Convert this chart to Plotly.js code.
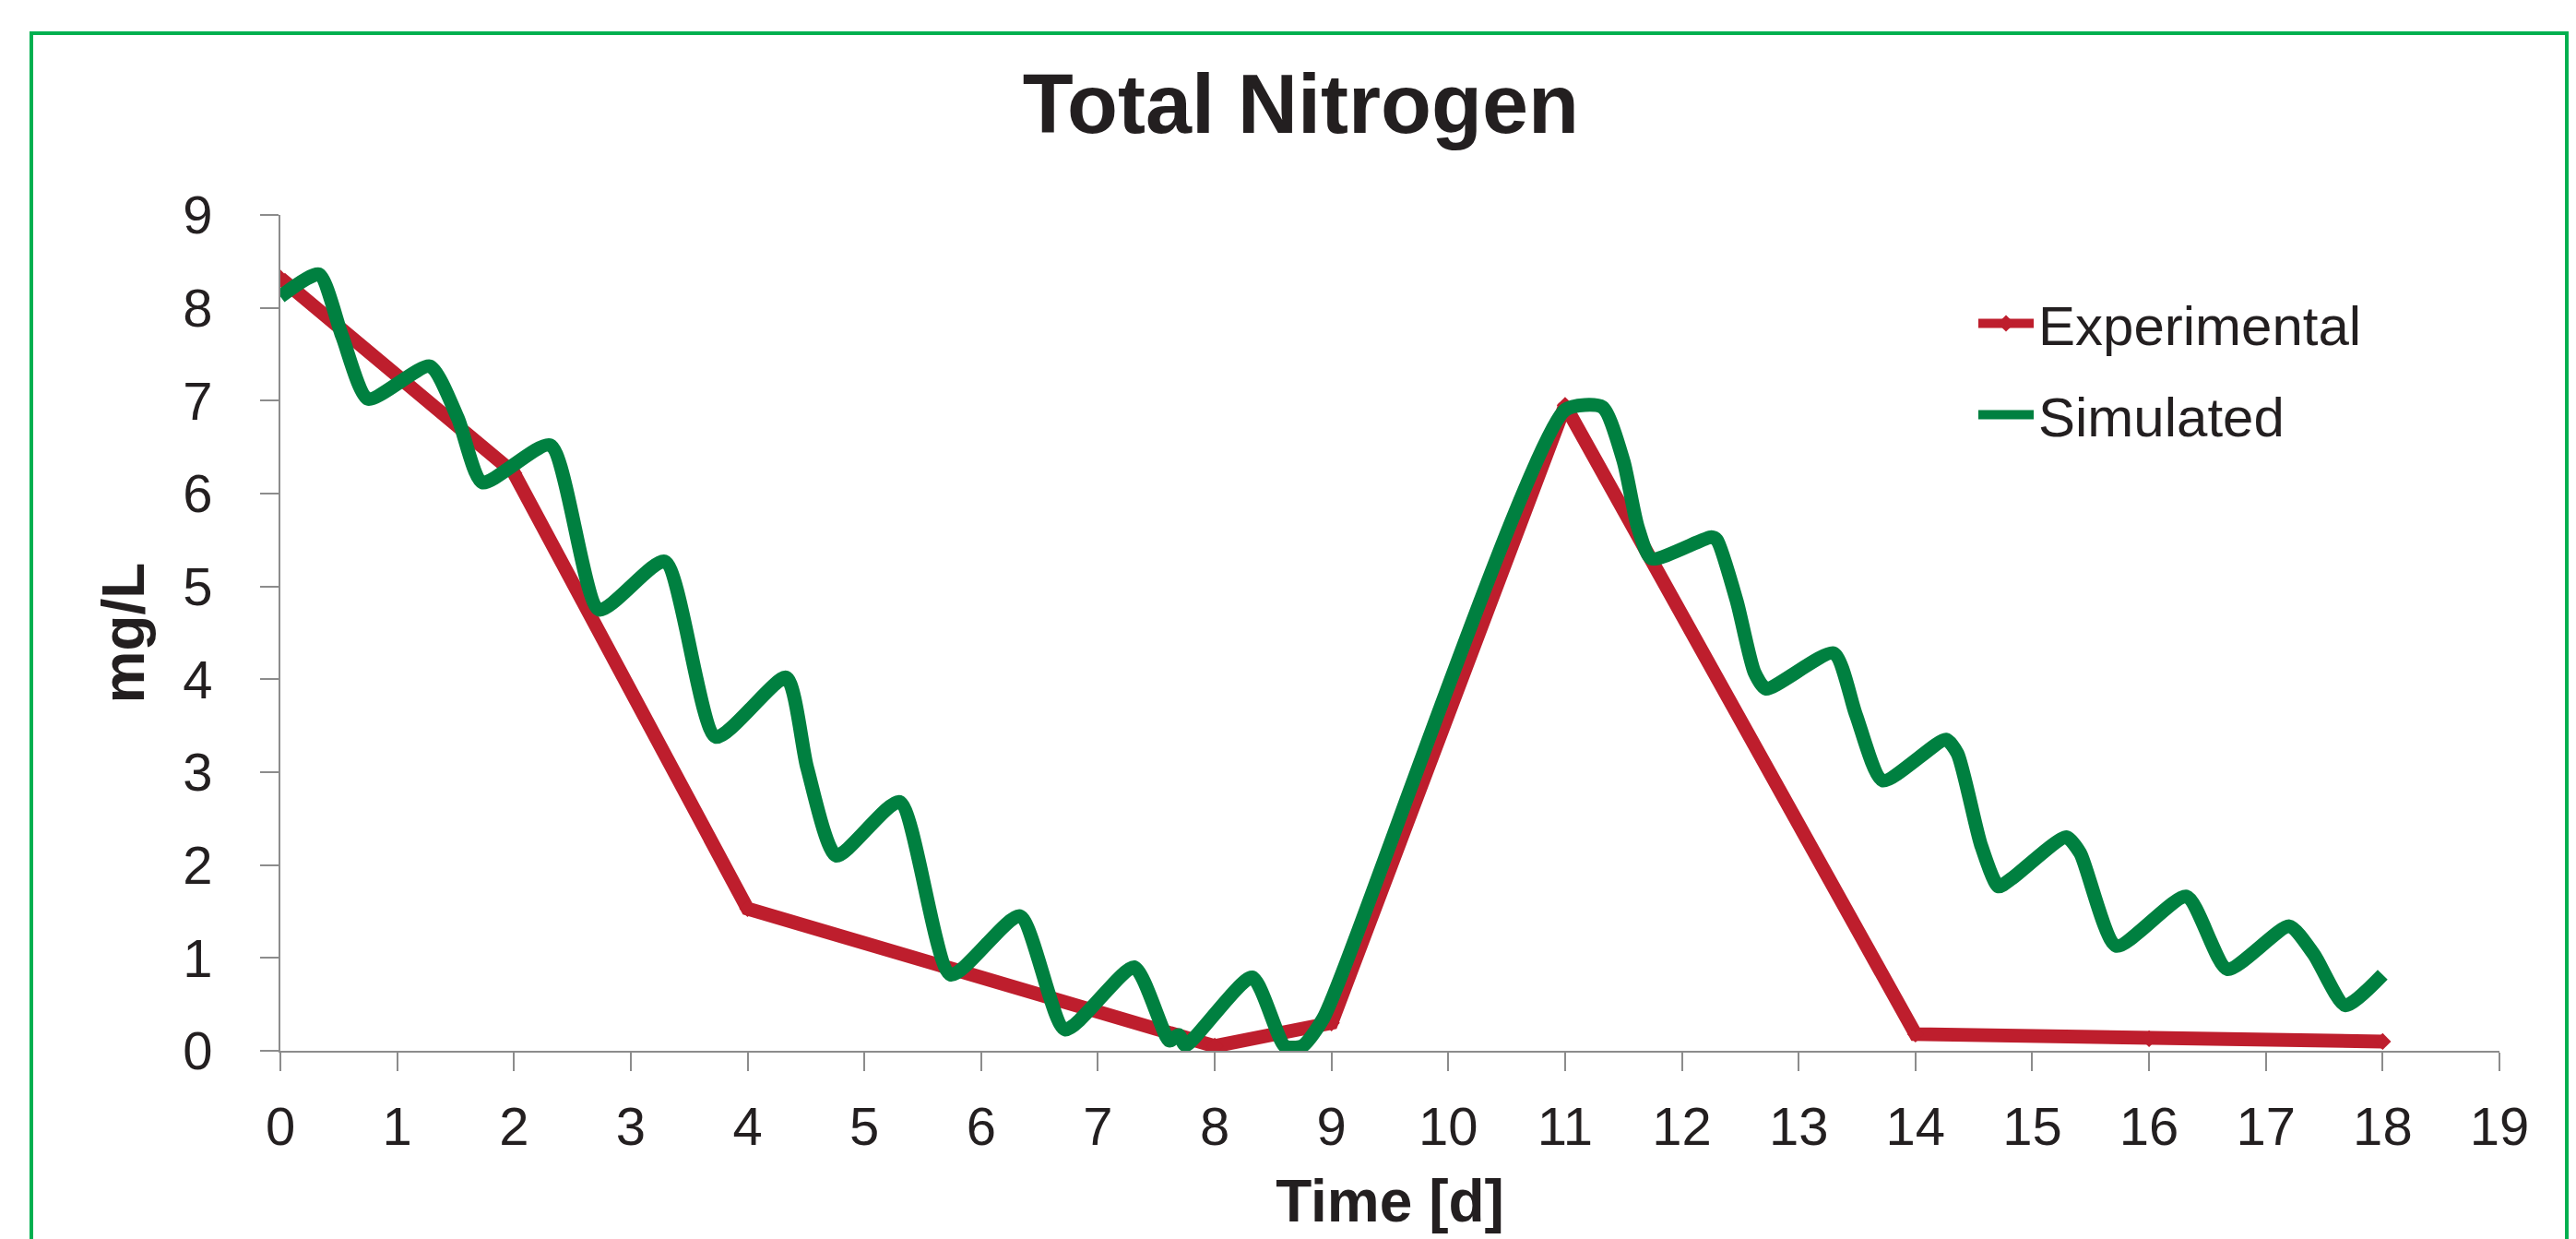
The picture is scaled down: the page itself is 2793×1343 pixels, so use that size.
<!DOCTYPE html>
<html>
<head>
<meta charset="utf-8">
<script src="https://cdn.plot.ly/plotly-3.0.1.min.js"></script>
<style>
  html, body { margin: 0; padding: 0; background: #ffffff; }
  #chart { width: 2793px; height: 1343px; }
</style>
</head>
<body>
<div id="chart"></div>
<script>
// ---- Data ----
const expTime = [0, 2, 4, 8, 9, 11, 14, 16, 18];
const expValue = [8.32, 6.22, 1.53, 0.05, 0.3, 6.95, 0.18, 0.13, 0.1];

const simTime = [0, 0.33, 0.53, 0.75, 1.28, 1.52, 1.73, 2.31, 2.73, 3.29, 3.73, 4.33, 4.51, 4.76,
  5.30, 5.74, 6.33, 6.72, 7.31, 7.61, 7.69, 7.75, 8.32, 8.6, 8.75, 8.93, 11.0, 11.32, 11.5, 11.62,
  11.74, 12.25, 12.30, 12.47, 12.62, 12.72, 13.30, 13.49, 13.72, 14.26, 14.36, 14.56, 14.71, 14.83,
  15.29, 15.41, 15.72, 16.32, 16.67, 17.20, 17.41, 17.68, 18.0];
const simValue = [8.12, 8.36, 7.69, 7.02, 7.37, 6.81, 6.12, 6.52, 4.75, 5.27, 3.38, 4.02, 3.05, 2.10,
  2.68, 0.82, 1.45, 0.23, 0.90, 0.11, 0.17, 0.06, 0.79, 0.05, 0.05, 0.35, 6.90, 6.93, 6.35, 5.65,
  5.30, 5.53, 5.50, 4.84, 4.08, 3.90, 4.28, 3.62, 2.91, 3.35, 3.20, 2.22, 1.77, 1.86,
  2.30, 2.13, 1.13, 1.66, 0.88, 1.34, 1.04, 0.49, 0.82];

const xTicks = [0,1,2,3,4,5,6,7,8,9,10,11,12,13,14,15,16,17,18,19];
const yTicks = [0,1,2,3,4,5,6,7,8,9];

const seriesNames = ['Experimental', 'Simulated'];
const chartTitle = 'Total Nitrogen';
const xTitle = 'Time [d]';
const yTitle = 'mg/L';

// ---- Styles ----
const RED = '#BE1E2D';
const GREEN = '#008040';
const TEXT = '#231F20';
const AXIS = '#8C8C8C';
const FONT = '"Liberation Sans", Arial, sans-serif';

const traces = [
  {
    x: expTime, y: expValue, name: seriesNames[0], type: 'scatter', mode: 'lines+markers',
    line: { color: RED, width: 15 },
    marker: { symbol: 'diamond', size: 14, color: RED },
    legendgroup: 'a'
  },
  {
    x: simTime, y: simValue, name: seriesNames[1], type: 'scatter', mode: 'lines',
    line: { color: GREEN, width: 15, shape: 'spline', smoothing: 0.6 },
    legendgroup: 'b'
  }
];

const L = 304, R = 83, T = 233, B = 204;
const W = 2793, H = 1343;
const pw = W - L - R, ph = H - T - B;
function px2x(px) { return (px - L) / pw; }
function py2y(py) { return (H - B - py) / ph; }

const layout = {
  width: W, height: H, autosize: false,
  margin: { l: L, r: R, t: T, b: B, pad: 0 },
  paper_bgcolor: '#ffffff', plot_bgcolor: '#ffffff',
  font: { family: FONT, color: TEXT, size: 58 },
  title: {
    text: '<b>' + chartTitle + '</b>',
    font: { family: FONT, size: 90, color: TEXT },
    x: 0.505, xanchor: 'center', xref: 'container',
    y: 1 - 112 / H, yanchor: 'middle', yref: 'container'
  },
  xaxis: {
    range: [0, 19], tickvals: xTicks, ticktext: xTicks.map(String),
    showgrid: false, zeroline: false,
    showline: true, linecolor: AXIS, linewidth: 2,
    ticks: 'outside', ticklen: 20, tickwidth: 2, tickcolor: AXIS,
    tickfont: { family: FONT, size: 58, color: TEXT },
    ticklabelstandoff: 10,
    title: { text: '<b>' + xTitle + '</b>', font: { family: FONT, size: 64, color: TEXT }, standoff: 28 },
    automargin: false, fixedrange: true
  },
  yaxis: {
    range: [0, 9], tickvals: yTicks, ticktext: yTicks.map(String),
    showgrid: false, zeroline: false,
    showline: true, linecolor: AXIS, linewidth: 2,
    ticks: 'outside', ticklen: 20, tickwidth: 2, tickcolor: AXIS,
    tickfont: { family: FONT, size: 58, color: TEXT },
    ticklabelstandoff: 40,
    title: { text: '<b>' + yTitle + '</b>', font: { family: FONT, size: 64, color: TEXT }, standoff: 21 },
    automargin: false, fixedrange: true
  },
  showlegend: true,
  legend: {
    x: px2x(2140), xanchor: 'left', y: py2y(305), yanchor: 'top',
    font: { family: FONT, size: 60, color: TEXT },
    bgcolor: 'rgba(0,0,0,0)', borderwidth: 0,
    tracegroupgap: 18, itemwidth: 60, traceorder: 'grouped'
  },
  shapes: [
    {
      type: 'rect', xref: 'paper', yref: 'paper', layer: 'below',
      x0: px2x(34), x1: px2x(2783), y0: py2y(1360), y1: py2y(36),
      line: { color: '#00B050', width: 4 }, fillcolor: 'rgba(0,0,0,0)'
    }
  ]
};

Plotly.newPlot('chart', traces, layout, { displayModeBar: false, staticPlot: true });
</script>
</body>
</html>
